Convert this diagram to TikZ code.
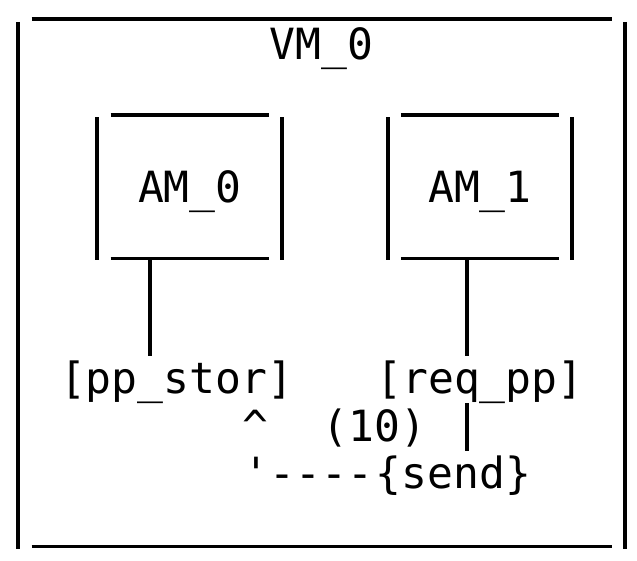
\documentclass[tikz,border=0pt]{standalone}
\usepackage{fontspec}
\setmonofont{DejaVu Sans Mono}
\begin{document}
\begin{tikzpicture}[x=1pt,y=-1pt,
  hbar/.style={line width=3.3pt},
  vbar/.style={line width=4pt},
  lbl/.style={font=\ttfamily\fontsize{43}{48}\selectfont, inner sep=0pt, anchor=base}]
\useasboundingbox (0,0) rectangle (637,561);
\fill[white] (0,0) rectangle (637,561);
% outer VM box
\draw[hbar] (31.5,19) -- (611.8,19);
\draw[hbar] (31.5,546.5) -- (611.8,546.5);
\draw[vbar] (18.3,22) -- (18.3,549);
\draw[vbar] (625,22) -- (625,549);
\node[lbl] (vm) at (321.7,60) {VM\_0};
% AM_0 box
\draw[hbar] (110.6,115) -- (268.9,115);
\draw[hbar] (110.6,258.5) -- (268.9,258.5);
\draw[vbar] (97.4,117.3) -- (97.4,260.5);
\draw[vbar] (282.1,117.3) -- (282.1,260.5);
\node[lbl] (am0) at (189.8,203) {AM\_0};
% AM_1 box
\draw[hbar] (400.8,115) -- (559.1,115);
\draw[hbar] (400.8,258.5) -- (559.1,258.5);
\draw[vbar] (387.6,117.3) -- (387.6,260.5);
\draw[vbar] (572.3,117.3) -- (572.3,260.5);
\node[lbl] (am1) at (479.9,203) {AM\_1};
% ports
\node[lbl] (ppstor) at (176.6,393.5) {[pp\_stor]};
\node[lbl] (reqpp) at (479.9,393.5) {[req\_pp]};
\node[lbl] (caret) at (255.7,441.2) {\textasciicircum};
\node[lbl] (ten) at (374.4,441.2) {(10)};
\node[lbl] (ret) at (308.5,488.9) {\textquotesingle-{}-{}-{}-};
\node[lbl] (send) at (453.6,488.9) {\{send\}};
% connectors
\coordinate (am0s) at (150.2,260.5);
\coordinate (ppn) at (150.2,355.5);
\coordinate (am1s) at (466.8,260.5);
\coordinate (rqn) at (466.8,355.5);
\coordinate (rqs) at (466.8,403.2);
\coordinate (sdn) at (466.8,451);
\draw[vbar] (am0s) -- (ppn);
\draw[vbar] (am1s) -- (rqn);
\draw[vbar] (rqs) -- (sdn);
\end{tikzpicture}
\end{document}
